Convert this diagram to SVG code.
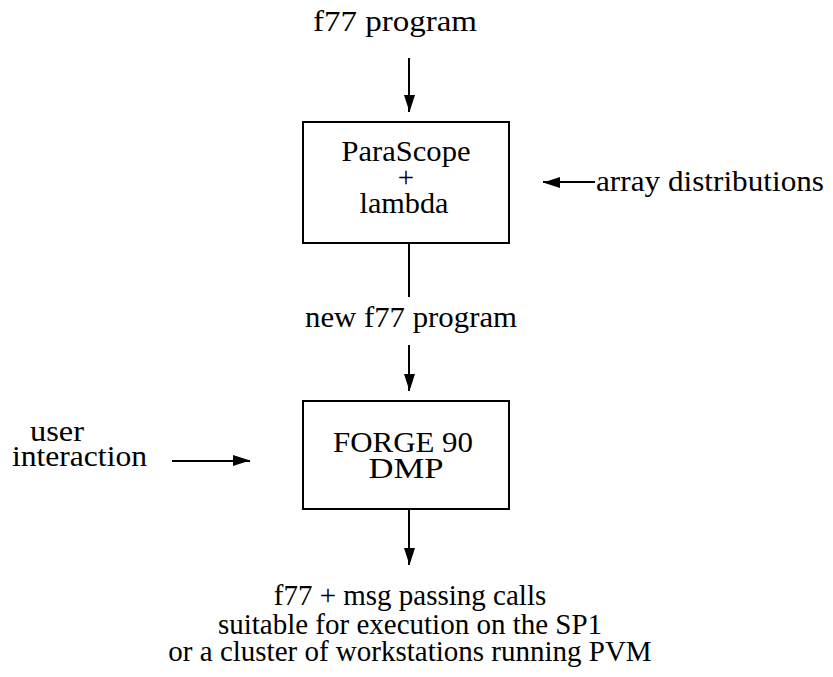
<svg xmlns="http://www.w3.org/2000/svg" width="833" height="677" viewBox="0 0 833 677">
<style>
text{font-family:"Liberation Serif","DejaVu Serif",serif;font-size:29px;fill:#000;text-anchor:middle}
.l{text-anchor:start}
.box{fill:#fff;stroke:#000;stroke-width:2}
.ln{stroke:#000;stroke-width:2;fill:none}
</style>
<defs>
<marker id="ah" markerWidth="18" markerHeight="12" refX="17" refY="6" orient="auto" markerUnits="userSpaceOnUse">
<path d="M0,0 L17,5.5 L0,11 Z" fill="#000"/>
</marker>
</defs>
<rect width="833" height="677" fill="#fff"/>
<g id="connectors">
<line class="ln" x1="409" y1="58" x2="409" y2="112" marker-end="url(#ah)"/>
<line class="ln" x1="409" y1="243" x2="409" y2="297"/>
<line class="ln" x1="409" y1="345" x2="409" y2="391" marker-end="url(#ah)"/>
<line class="ln" x1="595" y1="182" x2="543" y2="182" marker-end="url(#ah)"/>
<line class="ln" x1="172" y1="461" x2="250" y2="461" marker-end="url(#ah)"/>
<line class="ln" x1="409" y1="509" x2="409" y2="565" marker-end="url(#ah)"/>
</g>
<g id="input"><text x="395" y="31" textLength="164" lengthAdjust="spacingAndGlyphs">f77 program</text></g>
<g id="parascope">
<rect class="box" x="303" y="122" width="206" height="121"/>
<text x="406" y="161"><tspan x="406" y="161" textLength="129" lengthAdjust="spacingAndGlyphs">ParaScope</tspan><tspan x="406" y="187">+</tspan><tspan x="404" y="213" textLength="89" lengthAdjust="spacingAndGlyphs">lambda</tspan></text>
</g>
<g id="arraydist"><text class="l" x="596" y="191" textLength="228" lengthAdjust="spacingAndGlyphs">array distributions</text></g>
<g id="newf77"><text x="411" y="327" textLength="212" lengthAdjust="spacingAndGlyphs">new f77 program</text></g>
<g id="forge">
<rect class="box" x="303" y="401" width="206" height="108"/>
<text x="406" y="452"><tspan x="403" y="452" textLength="140" lengthAdjust="spacingAndGlyphs">FORGE 90</tspan><tspan x="406" y="478" textLength="75" lengthAdjust="spacingAndGlyphs">DMP</tspan></text>
</g>
<g id="user">
<text x="57" y="441"><tspan x="57" y="441" textLength="54" lengthAdjust="spacingAndGlyphs">user</tspan><tspan x="79.5" y="466" textLength="135" lengthAdjust="spacingAndGlyphs">interaction</tspan></text>
</g>
<g id="output">
<text x="410" y="605"><tspan x="410" y="605">f77 + msg passing calls</tspan><tspan x="410" y="634">suitable for execution on the SP1</tspan><tspan x="410" y="661">or a cluster of workstations running PVM</tspan></text>
</g>
</svg>
